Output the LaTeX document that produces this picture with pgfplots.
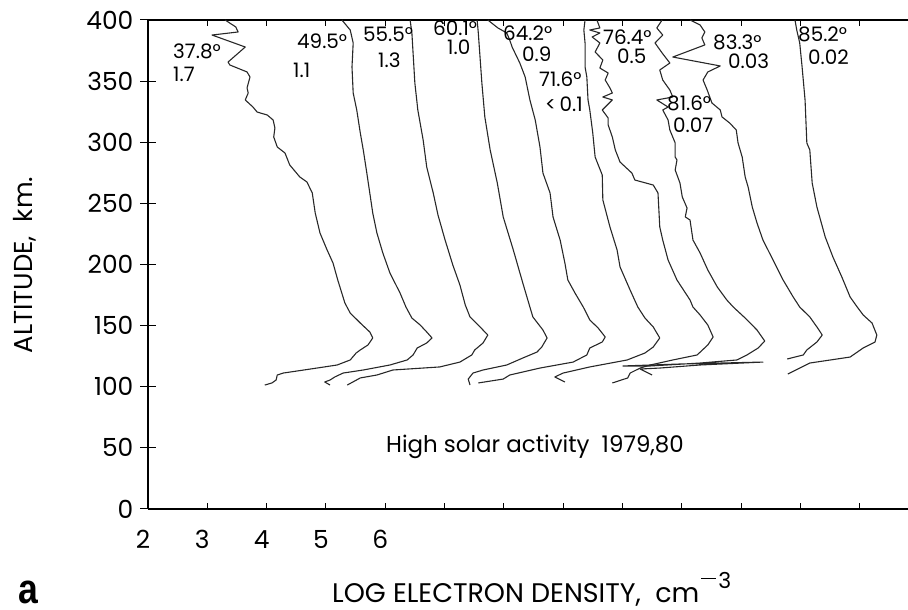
\documentclass[border=0pt]{standalone}
\usepackage{pgfplots}
\pgfplotsset{compat=1.18}
\usepackage{fontspec}
\setmainfont{Poppins}
\newfontfamily\panelfont{Liberation Sans}
\definecolor{trace}{RGB}{40,40,40}
\begin{document}
\begin{tikzpicture}
\path[use as bounding box] (0,0) rectangle (908bp,610bp);
% profiles and the x axis (bottom and top lines, inward ticks)
\begin{axis}[
  at={(148bp,101bp)}, anchor=south west,
  scale only axis, width=760bp, height=489bp,
  xmin=2, xmax=14.816, ymin=0, ymax=400,
  axis x line=box, axis y line=none,
  axis line style={-, line width=1.2bp, black},
  xtick={2,...,14},
  xticklabels={2,3,4,5,6,,,,,,,,},
  tick align=inside, major tick length=6bp,
  tick style={line width=1bp, black},
  xticklabel style={font=\fontsize{25}{25}\selectfont, inner sep=0pt, anchor=north, yshift=-21bp, xshift=-5bp},
  curve/.style={trace, line width=1.1bp, line join=round},
]
% 37.8 deg
\addplot[curve] coordinates {(3.30,400) (3.48,394.3) (3.52,390.2) (3.08,387.7) (3.64,377.9) (3.35,365.6) (3.38,363.2) (3.67,357.5) (3.72,353.4) (3.67,344.4) (3.69,340.3) (3.64,334.6) (3.77,328.8) (3.84,324.7) (4.01,322.3) (4.11,318.2) (4.14,311.7) (4.12,304.3) (4.18,296.1) (4.31,291.2) (4.39,281.4) (4.56,271.6) (4.68,267.5) (4.77,258.5) (4.82,242.1) (4.90,225.8) (5.02,211.9) (5.12,201.2) (5.20,187.3) (5.32,168.5) (5.41,160.3) (5.58,152.1) (5.74,144.8) (5.79,139.9) (5.71,134.2) (5.58,130.1) (5.51,127.6) (5.41,121.9) (5.19,117.8) (4.85,115.3) (4.28,111.2) (4.18,109.6) (4.16,105.5) (4.09,103.1) (3.97,101.4)};
% 49.5 deg
\addplot[curve] coordinates {(5.27,400) (5.41,391.8) (5.46,381.2) (5.44,361.6) (5.46,340.3) (5.52,326.4) (5.58,307.6) (5.63,293.7) (5.69,274.8) (5.74,258.5) (5.79,242.1) (5.86,225.8) (5.96,209.4) (6.08,193.0) (6.25,176.7) (6.35,165.2) (6.45,156.2) (6.59,150.5) (6.70,144.8) (6.79,139.9) (6.70,135.8) (6.54,131.7) (6.47,126.0) (6.37,121.9) (6.08,117.8) (5.63,113.7) (5.29,111.2) (5.15,108.0) (5.07,105.5) (4.98,103.9) (5.07,101.4)};
% 55.5 deg
\addplot[curve] coordinates {(6.42,400) (6.45,389.4) (6.47,373.0) (6.50,348.5) (6.55,326.4) (6.64,301.8) (6.70,279.8) (6.81,258.5) (6.89,240.5) (7.01,220.0) (7.14,199.6) (7.26,183.2) (7.35,166.9) (7.43,157.1) (7.60,148.9) (7.73,142.3) (7.65,135.8) (7.51,130.1) (7.46,126.0) (7.26,120.2) (6.92,116.2) (6.13,113.7) (5.86,109.6) (5.58,107.2) (5.36,101.4)};
% 60.1 deg
\addplot[curve] coordinates {(7.55,400) (7.57,389.4) (7.63,348.5) (7.68,320.7) (7.77,293.7) (7.89,266.7) (7.99,238.9) (8.16,211.9) (8.32,184.9) (8.44,165.2) (8.49,157.1) (8.66,146.4) (8.73,139.9) (8.64,132.5) (8.56,128.4) (8.32,123.5) (8.05,117.8) (7.65,113.7) (7.48,111.2) (7.40,106.3) (7.43,101.4)};
% 64.2 deg
\addplot[curve] coordinates {(7.73,400) (7.90,393.5) (8.05,389.4) (8.10,383.6) (8.14,377.9) (8.27,364.8) (8.36,353.4) (8.44,334.6) (8.53,318.2) (8.61,296.1) (8.66,274.8) (8.78,258.5) (8.83,238.9) (8.95,220.0) (9.03,201.2) (9.08,187.3) (9.20,176.7) (9.34,165.2) (9.45,154.6) (9.59,148.1) (9.71,140.7) (9.66,136.6) (9.45,131.7) (9.40,126.0) (9.17,120.2) (8.61,115.3) (8.10,109.6) (7.99,106.3) (7.57,103.1)};
% 71.6 deg
\addplot[curve] coordinates {(9.37,400) (9.35,391.8) (9.37,381.2) (9.37,361.6) (9.40,353.4) (9.42,334.6) (9.45,326.4) (9.50,307.6) (9.54,287.9) (9.66,273.2) (9.67,252.8) (9.79,230.7) (9.91,211.9) (9.96,198.0) (10.13,179.1) (10.26,165.2) (10.38,156.2) (10.52,148.9) (10.63,139.9) (10.52,132.5) (10.38,127.6) (10.08,121.9) (9.45,116.2) (9.00,111.2) (8.86,108.0) (9.03,103.9)};
% 76.4 deg
\addplot[curve] coordinates {(9.57,400) (9.62,393.5) (9.45,391.8) (9.62,389.4) (9.49,386.1) (9.62,381.2) (9.54,373.8) (9.67,367.3) (9.62,360.7) (9.76,356.6) (9.71,350.9) (9.79,344.4) (9.83,340.3) (9.67,337.0) (9.83,334.6) (9.66,326.4) (9.76,319.8) (9.76,314.1) (9.83,304.3) (9.88,293.7) (9.96,283.8) (10.16,274.8) (10.21,269.1) (10.52,265.0) (10.60,258.5) (10.63,230.7) (10.68,220.0) (10.77,203.7) (10.92,187.3) (11.14,171.0) (11.19,165.2) (11.31,158.7) (11.44,150.5) (11.53,140.7) (11.44,134.2) (11.26,126.0) (10.85,121.9) (10.47,117.8) (10.30,115.3) (10.13,111.2) (10.09,107.2) (9.83,103.1)};
% 81.6 deg
\addplot[curve] coordinates {(10.67,400) (10.58,393.5) (10.68,387.7) (10.55,381.2) (10.67,373.0) (10.80,364.8) (10.63,359.1) (10.68,350.9) (10.80,342.7) (10.85,337.0) (10.58,334.6) (10.77,328.8) (10.68,326.4) (10.77,318.2) (10.80,310.0) (10.89,299.4) (10.89,287.9) (10.92,285.5) (10.89,277.3) (10.97,266.7) (11.01,255.2) (11.09,246.2) (11.06,238.9) (11.14,236.4) (11.19,220.0) (11.31,209.4) (11.44,195.5) (11.60,181.6) (11.76,171.0) (11.87,165.2) (12.07,156.2) (12.27,146.4) (12.40,137.4) (12.29,131.7) (12.10,126.0) (11.93,121.9) (11.31,119.4) (10.47,117.0) (10.01,117.0) (10.97,118.6) (12.37,120.2) (11.31,117.8) (10.63,115.3) (10.30,114.5) (10.50,109.6)};
% 83.3 deg
\addplot[curve] coordinates {(11.14,400) (11.31,395.9) (11.39,390.2) (11.34,385.3) (11.39,379.6) (10.85,369.7) (11.65,362.4) (11.44,357.5) (11.36,350.9) (11.43,342.7) (11.51,332.1) (11.65,326.4) (11.68,320.7) (11.81,315.7) (11.92,310.0) (11.95,299.4) (12.02,287.9) (12.07,271.6) (12.12,263.4) (12.19,247.0) (12.27,233.9) (12.37,220.0) (12.54,203.7) (12.71,187.3) (12.88,173.4) (12.99,165.2) (13.16,157.1) (13.28,148.9) (13.37,142.3) (13.28,136.6) (13.11,130.1) (13.05,126.0) (12.78,122.7)};
% 85.2 deg
\addplot[curve] coordinates {(12.91,400) (12.94,391.8) (12.99,381.2) (13.03,361.6) (13.08,334.6) (13.11,299.4) (13.16,293.7) (13.20,266.7) (13.28,247.0) (13.42,222.5) (13.55,206.1) (13.70,189.8) (13.84,173.4) (13.96,165.2) (14.06,158.7) (14.21,152.1) (14.29,142.3) (14.26,136.6) (14.06,131.7) (13.84,124.3) (13.16,119.4) (12.99,115.3) (12.79,110.4)};
\end{axis}
% left axis line with ticks crossing it
\begin{axis}[
  at={(148bp,101bp)}, anchor=south west,
  scale only axis, width=760bp, height=489bp,
  xmin=2, xmax=14.816, ymin=0, ymax=400,
  axis x line=none, axis y line=left,
  axis line style={-, line width=1.2bp, black},
  ytick={0,50,...,400},
  yticklabels={0,50,100,150,200,250,300,350,400},
  tick align=center, major tick length=15bp,
  tick style={line width=1bp, black},
  yticklabel style={font=\fontsize{25}{25}\selectfont, inner sep=0pt, anchor=east, xshift=-7bp},
]
\end{axis}
% axis titles
\node[rotate=90, anchor=base, inner sep=0pt, font=\fontsize{26}{26}\selectfont] at (32bp,345bp) {ALTITUDE,\ \ km.};
\node[anchor=base west, inner sep=0pt, font=\fontsize{27}{27}\selectfont] at (332bp,8bp) {LOG ELECTRON DENSITY,\ \ cm\kern2bp\raisebox{14bp}{\rule[9bp]{15bp}{1.3bp}\kern2bp\fontsize{22}{22}\selectfont 3}};
\node[anchor=base west, inner sep=0pt] at (18bp,7bp) {\scalebox{0.85}[1]{\panelfont\bfseries\fontsize{42}{42}\selectfont a}};
% solar zenith angle and value labels
\begin{scope}[every node/.style={anchor=base west, inner sep=0pt, font=\fontsize{20}{20}\selectfont}]
\node at (173bp,551bp) {37.8°};
\node at (173bp,528bp) {1.7};
\node at (297bp,561bp) {49.5°};
\node at (293bp,532bp) {1.1};
\node at (363bp,568bp) {55.5°};
\node at (378bp,542bp) {1.3};
\node at (433bp,574bp) {60.1°};
\node at (447bp,555bp) {1.0};
\node at (503bp,569bp) {64.2°};
\node at (522bp,548bp) {0.9};
\node at (539bp,523bp) {71.6°};
\node at (545bp,498bp) {<\,0.1};
\node at (603bp,565bp) {76.4°};
\node at (617bp,546bp) {0.5};
\node at (667bp,499bp) {81.6°};
\node at (673bp,477bp) {0.07};
\node at (713bp,560bp) {83.3°};
\node at (728bp,541bp) {0.03};
\node at (798bp,568bp) {85.2°};
\node at (808bp,545bp) {0.02};
\end{scope}
\node[anchor=base west, inner sep=0pt, font=\fontsize{23}{23}\selectfont] at (386bp,157bp) {High solar activity\ \ 1979,80};
\end{tikzpicture}
\end{document}
